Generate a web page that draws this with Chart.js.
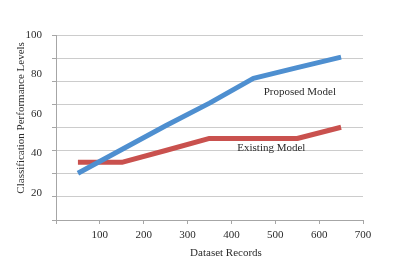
<!DOCTYPE html>
<html>
<head>
<meta charset="utf-8">
<script src="https://cdn.jsdelivr.net/npm/chart.js@4/dist/chart.umd.min.js"></script>
<style>
  html, body { margin: 0; padding: 0; background: #fff; }
  #wrap { width: 393px; height: 271px; }
</style>
</head>
<body>
<div id="wrap"><canvas id="chart" width="393" height="271"></canvas></div>
<script>
// Data
const records = [50, 150, 250, 350, 450, 550, 650];
const proposedModel = [30, 42, 54, 65.5, 78, 83.5, 88.8];
const existingModel = [35.5, 35.5, 41.5, 47.6, 47.6, 47.6, 53.3];

const xTicks = [0, 100, 200, 300, 400, 500, 600, 700];
const yLabelTicks = [20, 40, 60, 80, 100];

// axis range (the printed labels don't sit on the gridlines in the original)
const yMin = 6.3;
const yMax = 100;
const gridCount = 8;

const serif = "'Liberation Serif', 'Times New Roman', serif";
const textColor = "#2b2b2b";

// free text labels placed next to the lines
const lineLabels = [
    { text: "Proposed Model", x: 556, y: 71.3 },
    { text: "Existing Model", x: 491, y: 42.6 },
];

const lineLabelPlugin = {
    id: "lineLabels",
    afterDatasetsDraw(chart) {
        const ctx = chart.ctx;
        const xs = chart.scales.x;
        const ys = chart.scales.y;
        ctx.save();
        ctx.font = "11px " + serif;
        ctx.fillStyle = textColor;
        ctx.textAlign = "center";
        ctx.textBaseline = "middle";
        lineLabels.forEach(l => {
            ctx.fillText(l.text, xs.getPixelForValue(l.x), ys.getPixelForValue(l.y));
        });
        ctx.restore();
    },
};

const toPoints = (xs, ys) => xs.map((x, i) => ({ x: x, y: ys[i] }));

new Chart(document.getElementById("chart"), {
    type: "line",
    data: {
        datasets: [
            {
                label: "Proposed Model",
                data: toPoints(records, proposedModel),
                borderColor: "#4E8FD0",
                borderWidth: 5,
                pointRadius: 0,
                tension: 0,
                borderJoinStyle: "round",
                yAxisID: "y",
            },
            {
                label: "Existing Model",
                data: toPoints(records, existingModel),
                borderColor: "#C9514E",
                borderWidth: 5,
                pointRadius: 0,
                tension: 0,
                borderJoinStyle: "round",
                yAxisID: "y",
            },
        ],
    },
    options: {
        responsive: false,
        animation: false,
        layout: { padding: { top: 35, right: 30, left: 0, bottom: 0 } },
        plugins: {
            legend: { display: false },
            tooltip: { enabled: false },
        },
        scales: {
            x: {
                type: "linear",
                min: 0,
                max: 700,
                afterBuildTicks: s => { s.ticks = xTicks.map(v => ({ value: v })); },
                afterFit: s => { s.height = 51; },
                border: { color: "#a6a6a6" },
                grid: { drawOnChartArea: false, tickLength: 4, color: "#a6a6a6" },
                ticks: {
                    padding: 5,
                    color: textColor,
                    font: { family: serif, size: 11 },
                    callback: v => (v === 0 ? "" : v),
                },
                title: {
                    display: true,
                    text: "            Dataset Records",
                    color: textColor,
                    font: { family: serif, size: 11 },
                    padding: { top: 0, bottom: 11 },
                },
            },
            // gridline axis
            y: {
                type: "linear",
                position: "left",
                weight: 0,
                min: yMin,
                max: yMax,
                afterBuildTicks: s => {
                    const step = (yMax - yMin) / gridCount;
                    const t = [];
                    for (let i = 0; i <= gridCount; i++) t.push({ value: yMin + i * step });
                    s.ticks = t;
                },
                afterFit: s => { s.width = 4; },
                border: { color: "#a6a6a6" },
                grid: { color: "#cccccc", tickLength: 4, tickColor: "#a6a6a6" },
                ticks: { display: false },
            },
            // label axis
            yLabels: {
                type: "linear",
                position: "left",
                weight: 1,
                min: yMin,
                max: yMax,
                afterBuildTicks: s => { s.ticks = yLabelTicks.map(v => ({ value: v })); },
                afterFit: s => { s.width = 52; },
                border: { display: false },
                grid: { display: false },
                ticks: {
                    padding: 2,
                    color: textColor,
                    font: { family: serif, size: 11 },
                },
                title: {
                    display: true,
                    text: "       Classification Performance Levels",
                    color: textColor,
                    font: { family: serif, size: 11 },
                    padding: { top: 15, bottom: 0 },
                },
            },
        },
    },
    plugins: [lineLabelPlugin],
});
</script>
</body>
</html>
